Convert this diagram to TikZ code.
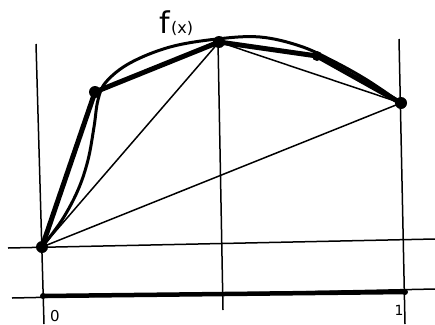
\documentclass[tikz,border=0pt]{standalone}
\usepackage{fontspec}
\setmainfont{DejaVu Sans}
\begin{document}
\begin{tikzpicture}[x=1pt,y=-1pt,
  thinline/.style={line width=1.5pt},
  thickline/.style={line width=5pt,line join=round,line cap=round},
  curveline/.style={line width=3pt,line cap=round},
  dot/.style={circle,fill=black,inner sep=0pt,minimum size=12pt},
  lbl/.style={inner sep=0pt}]
\useasboundingbox (0,0) rectangle (435,324);
% points
\node[dot] (p0) at (42,247) {};
\node[dot] (p1) at (95,92) {};
\node[dot] (p2) at (219,42) {};
\node[dot,minimum size=10pt] (p3) at (317,56) {};
\node[dot] (p4) at (401,103) {};
% grid lines
\coordinate (lt) at (36,44);
\coordinate (lb) at (44,324);
\coordinate (mt) at (218,42);
\coordinate (mb) at (223,310);
\coordinate (rt) at (399,39);
\coordinate (rb) at (405,324);
\coordinate (hl) at (8,248);
\coordinate (hr) at (435,239);
\coordinate (gl) at (12,298);
\coordinate (gr) at (435,289);
\coordinate (a0) at (43,296);
\coordinate (a1) at (405,292);
\draw[thinline] (lt) -- (lb);
\draw[thinline] (mt) -- (mb);
\draw[thinline] (rt) -- (rb);
\draw[thinline] (hl) -- (hr);
\draw[thinline] (gl) -- (gr);
\draw[line width=4.5pt] (a0) -- (a1);
\fill (a0) circle (3pt);
\fill (a1) circle (3pt);
% chords
\draw[thinline] (p0.center) -- (p2.center);
\draw[thinline] (p0.center) -- (p4.center);
\draw[thinline] (p2.center) -- (p4.center);
% function curve
\draw[curveline] plot[smooth,tension=0.6] coordinates {(42,247) (62,220) (78,190) (88,160) (94,127) (98,100) (106,82) (130,63) (170,47) (217,39) (260,37) (300,46) (333,61) (367,80) (401,103)};
% polygon
\draw[thickline] (p0.center) -- (p1.center) -- (p2.center) -- (p3.center) -- (p4.center);
% labels
\node[lbl,anchor=base west] (f) at (159,33) {\fontsize{30}{30}\selectfont f};
\node[lbl,anchor=base west] (fx) at ([xshift=1pt]f.base east) {\fontsize{16}{16}\selectfont(x)};
\node[lbl] (l0) at (55,316) {\fontsize{15}{15}\selectfont 0};
\node[lbl] (l1) at (399,310) {\fontsize{14}{14}\selectfont 1};
\end{tikzpicture}
\end{document}
